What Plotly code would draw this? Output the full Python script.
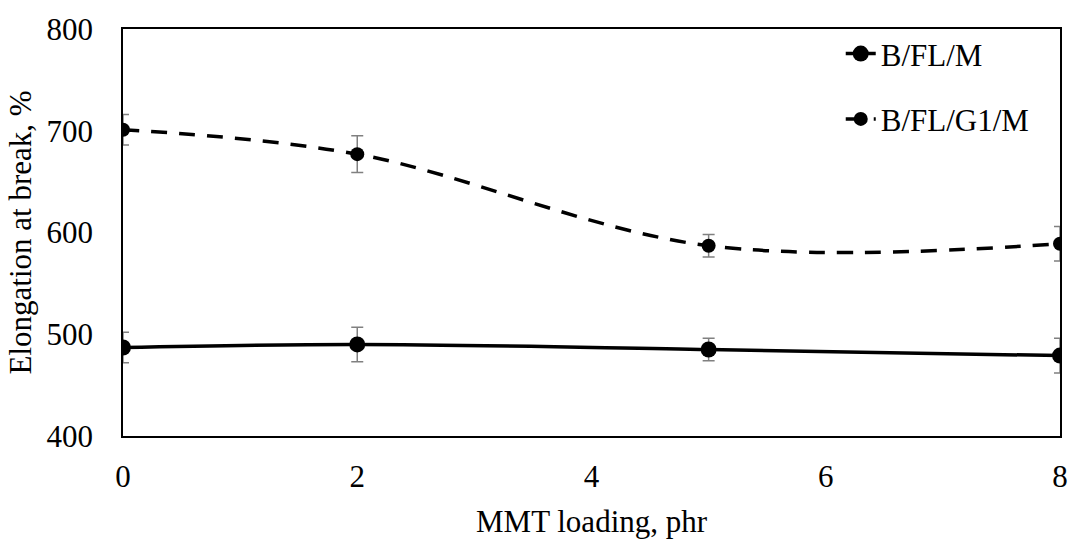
import plotly.graph_objects as go

x_vals = [0, 2, 5, 8]
s1_name = "B/FL/M"
s1_vals = [487, 490, 485, 479]
s1_err = [15, 17, 11, 17]
s2_name = "B/FL/G1/M"
s2_vals = [701, 677, 587, 589]
s2_err = [15, 18, 11, 17]
x_ticks = [0, 2, 4, 6, 8]
y_ticks = [400, 500, 600, 700, 800]
x_title = "MMT loading, phr"
y_title = "Elongation at break, %"

font = "Liberation Serif, Times New Roman, serif"
fs = 31

fig = go.Figure()
fig.add_trace(go.Scatter(
    x=x_vals, y=s1_vals, name=s1_name, mode="lines+markers", legendgroup="a",
    line=dict(color="black", width=3.5, shape="spline", smoothing=1),
    marker=dict(symbol="circle", size=16, color="black"),
    error_y=dict(type="data", array=s1_err, color="#808080", thickness=1.5, width=6),
))
fig.add_trace(go.Scatter(
    x=x_vals, y=s2_vals, name=s2_name, mode="lines+markers", legendgroup="b",
    line=dict(color="black", width=3.5, shape="spline", smoothing=1, dash="16px,12px"),
    marker=dict(symbol="circle", size=14, color="black"),
    error_y=dict(type="data", array=s2_err, color="#808080", thickness=1.5, width=6),
))

fig.add_annotation(text=x_title, xref="paper", yref="paper", x=0.5, y=0,
                   xanchor="center", yanchor="top", yshift=-66, showarrow=False,
                   font=dict(size=fs, family=font, color="black"))

fig.update_layout(
    width=1074, height=540,
    margin=dict(l=123, r=14, t=19, b=104),
    paper_bgcolor="white", plot_bgcolor="white",
    font=dict(family=font, size=fs, color="black"),
    showlegend=True,
    legend=dict(x=0.766, y=1.005, xanchor="left", yanchor="top",
                bgcolor="rgba(0,0,0,0)", font=dict(size=fs, family=font),
                traceorder="grouped", tracegroupgap=22, itemwidth=30),
    xaxis=dict(range=[0, 8], tickvals=x_ticks, showgrid=False, zeroline=False,
               showline=True, linecolor="black", linewidth=1.5, mirror=True,
               ticks="", ticklabelstandoff=12, automargin=False,
               tickfont=dict(size=fs, family=font)),
    yaxis=dict(range=[400, 800], tickvals=y_ticks, showgrid=False, zeroline=False,
               showline=True, linecolor="black", linewidth=1.5, mirror=True,
               ticks="", ticklabelstandoff=22, tickfont=dict(size=fs, family=font),
               title=dict(text=y_title, font=dict(size=fs, family=font), standoff=6)),
)

fig.write_html("out.html")
